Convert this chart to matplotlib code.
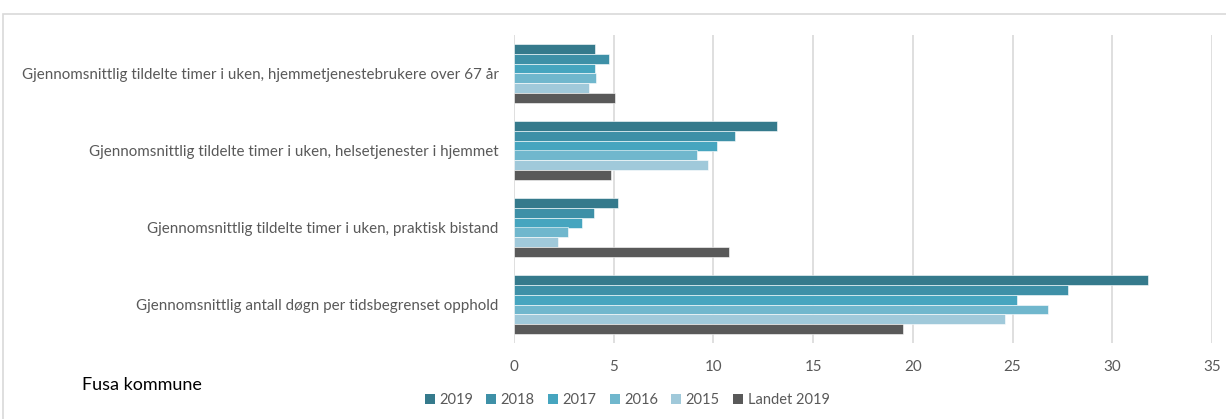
import numpy as np
import matplotlib
matplotlib.use('Agg')
import matplotlib.pyplot as plt
from matplotlib.patches import Rectangle, Patch

plt.rcParams['font.family'] = ['Lato', 'DejaVu Sans']

categories = ['Gjennomsnittlig tildelte timer i uken, hjemmetjenestebrukere over 67 år',
              'Gjennomsnittlig tildelte timer i uken, helsetjenester i hjemmet',
              'Gjennomsnittlig tildelte timer i uken, praktisk bistand',
              'Gjennomsnittlig antall døgn per tidsbegrenset opphold']
series_names = ['2019', '2018', '2017', '2016', '2015', 'Landet 2019']
v2019 = [4.05, 13.2, 5.2, 31.8]
v2018 = [4.75, 11.1, 4.0, 27.8]
v2017 = [4.05, 10.2, 3.4, 25.2]
v2016 = [4.1, 9.2, 2.7, 26.8]
v2015 = [3.75, 9.75, 2.2, 24.6]
landet = [5.05, 4.85, 10.8, 19.5]
xticks = [0, 5, 10, 15, 20, 25, 30, 35]

colors = ['#357a8c', '#3e90a7', '#46a5bf', '#70b7cd', '#a0c9da', '#595959']
all_vals = [v2019, v2018, v2017, v2016, v2015, landet]

fig = plt.figure(figsize=(12.26, 4.19), dpi=100)
# outer light frame
fig.patches.append(Rectangle((3/1226, -0.1), 1.2, 1 - 14/419 + 0.1, transform=fig.transFigure,
                             fill=False, edgecolor='#d9d9d9', linewidth=1.2))
ax = fig.add_axes([514/1226, 1 - 343/419, (1212 - 514)/1226, (343 - 35)/419])

n = len(categories)
y = np.arange(n)[::-1].astype(float)  # first category on top
bh = 0.128
for i, vals in enumerate(all_vals):
    offs = (2.5 - i) * bh
    ax.barh(y + offs, vals, height=bh, color=colors[i], edgecolor='white', linewidth=0.4, zorder=3)

ax.set_ylim(-0.5, n - 0.5)
ax.set_xlim(0, 35)
ax.set_xticks(xticks)
ax.set_yticks(y)
ax.set_yticklabels(categories)
ax.grid(axis='x', color='#d9d9d9', linewidth=1.2, zorder=0)
for s in ax.spines.values():
    s.set_visible(False)
ax.tick_params(axis='y', length=0, pad=11, labelsize=10.9, labelcolor='#595959')
ax.tick_params(axis='x', length=0, pad=12, labelsize=10.9, labelcolor='#595959')

handles = [Patch(facecolor=c, edgecolor='none') for c in colors]
fig.legend(handles, series_names, loc='center', bbox_to_anchor=(627/1226, 1 - 400/419), ncol=6,
           frameon=False, handlelength=0.7, handleheight=0.7, handletextpad=0.3,
           columnspacing=0.9, fontsize=10.5, labelcolor='#595959')

fig.text(82/1226, 1 - 385/419, 'Fusa kommune', fontsize=13, color='black', va='center', ha='left')

fig.savefig('out.png', dpi=100)
